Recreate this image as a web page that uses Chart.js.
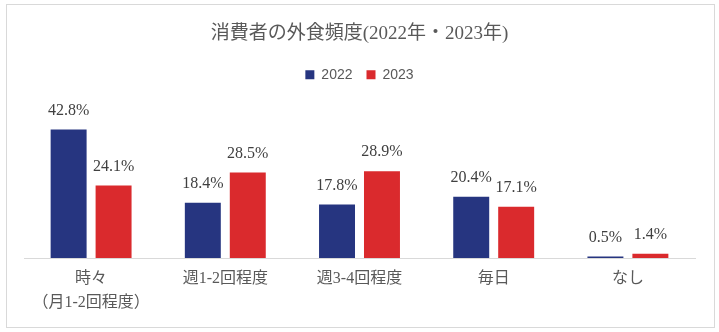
<!DOCTYPE html>
<html>
<head>
<meta charset="utf-8">
<script src="https://cdn.jsdelivr.net/npm/chart.js@4"></script>
<style>
    body { margin: 0; background: #fff; }
    #box {
        position: absolute; left: 6px; top: 4px;
        width: 709px; height: 324px;
        box-sizing: border-box; border: 1px solid #d9d9d9;
    }
    canvas { display: block; }
</style>
</head>
<body>
<div id="box"><canvas id="chart" width="707" height="322"></canvas></div>
<script>
const categories = [['時々', '（月1-2回程度）'], '週1-2回程度', '週3-4回程度', '毎日', 'なし'];
const values2022 = [42.8, 18.4, 17.8, 20.4, 0.5];
const values2023 = [24.1, 28.5, 28.9, 17.1, 1.4];

const serif = "'Liberation Serif', 'Noto Sans CJK JP', serif";

// percent labels above each bar
const barLabels = {
    id: 'barLabels',
    afterDatasetsDraw(chart) {
        const ctx = chart.ctx;
        ctx.save();
        ctx.font = '16px ' + serif;
        ctx.fillStyle = '#404040';
        ctx.textAlign = 'center';
        ctx.textBaseline = 'middle';
        chart.data.datasets.forEach((ds, i) => {
            chart.getDatasetMeta(i).data.forEach((bar, j) => {
                ctx.fillText(ds.data[j].toFixed(1) + '%', bar.x, bar.y - 19);
            });
        });
        ctx.restore();
    }
};

// extra room under the legend
const legendGap = {
    id: 'legendGap',
    beforeInit(chart) {
        const fit = chart.legend.fit;
        chart.legend.fit = function () {
            fit.call(this);
            this.height += 16;
        };
    }
};

new Chart(document.getElementById('chart'), {
    type: 'bar',
    data: {
        labels: categories,
        datasets: [
            { label: '2022', data: values2022, backgroundColor: '#263580' },
            { label: '2023', data: values2023, backgroundColor: '#da2a2d' },
        ],
    },
    options: {
        responsive: false,
        animation: false,
        categoryPercentage: 0.67,
        barPercentage: 0.8,
        layout: { padding: { left: 17, right: 19, top: 0, bottom: 11 } },
        plugins: {
            title: {
                display: true,
                text: '消費者の外食頻度(2022年・2023年)',
                color: '#595959',
                font: { family: serif, size: 19, weight: 'normal', lineHeight: 1.2 },
                padding: { top: 18, bottom: 8 },
            },
            legend: {
                position: 'top',
                labels: {
                    color: '#595959',
                    boxWidth: 9,
                    boxHeight: 9,
                    padding: 14,
                    font: { family: "'Liberation Sans', sans-serif", size: 14 },
                },
            },
            tooltip: { enabled: false },
        },
        scales: {
            x: {
                grid: { display: false },
                border: { display: true, color: '#d9d9d9' },
                ticks: {
                    color: '#595959',
                    padding: 1,
                    maxRotation: 0,
                    font: { family: serif, size: 16, lineHeight: 1.5 },
                },
            },
            y: {
                display: false,
                min: 0,
                max: 50,
            },
        },
    },
    plugins: [barLabels, legendGap],
});
</script>
</body>
</html>
